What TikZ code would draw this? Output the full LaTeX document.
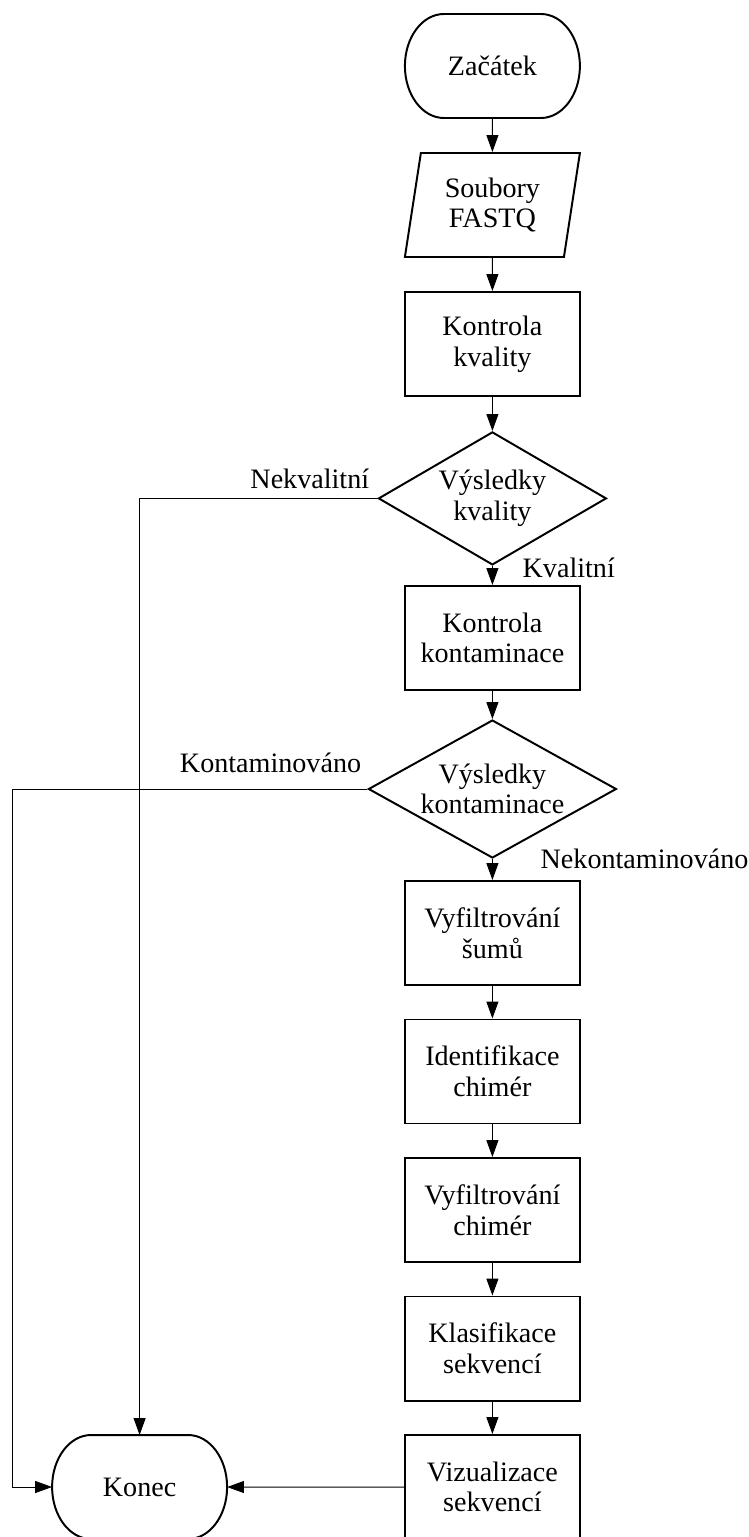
\documentclass[tikz,border=0pt]{standalone}
\usepackage{fontspec}
\setmainfont{Liberation Serif}
\usetikzlibrary{arrows.meta, positioning, shapes.geometric, calc}

\begin{document}
\begin{tikzpicture}[
    >={Triangle[length=12pt, width=8.5pt]},
    base/.style={draw=black, line width=1.4pt, align=center, font=\fontsize{20}{21.8}\selectfont},
    term/.style={base, draw=none, outer sep=0pt, rectangle, minimum width=4.375cm, minimum height=2.6cm},
    termline/.style={line width=1.4pt},
    io/.style={base, trapezium, trapezium left angle=76, trapezium right angle=104, trapezium stretches body, minimum width=4.375cm, minimum height=2.6cm, inner xsep=0pt},
    proc/.style={base, rectangle, minimum width=4.375cm, minimum height=2.6cm},
    dec/.style={base, diamond, inner sep=0pt},
    lbl/.style={font=\fontsize{20}{21.8}\selectfont, inner sep=0pt},
    arr/.style={->, line width=0.7pt}
  ]

  \useasboundingbox (0,0) rectangle (18.7,-38.425);

  % Main column
  \node[term] (start) at (12.31, -1.65) {Začátek};
  \node[io] (data) at (12.31, -5.125) {Soubory\\FASTQ};
  \node[proc] (k1) at (12.31, -8.6) {Kontrola\\kvality};
  \node[dec, aspect=1.71, minimum width=5.7cm, minimum height=3.325cm] (q1) at (12.31, -12.46) {Výsledky\\kvality};
  \node[proc] (k2) at (12.31, -15.95) {Kontrola\\kontaminace};
  \node[dec, aspect=1.8, minimum width=6.2cm, minimum height=3.45cm] (q2) at (12.31, -19.725) {Výsledky\\kontaminace};

  % Processing steps
  \foreach \i/\name in {%
    0/{Vyfiltrování\\šumů},
    1/{Identifikace\\chimér},
    2/{Vyfiltrování\\chimér},
    3/{Klasifikace\\sekvencí},
    4/{Vizualizace\\sekvencí}} {
    \node[proc] (p\i) at (12.31, -23.325-\i*3.4625) {\name};
  }

  \node[term] (end) at (3.49, -37.175) {Konec};

  % Terminal outlines (elliptic ends)
  \foreach \t in {start,end} {
    \draw[termline] ([xshift=0.975cm]\t.north west) -- ([xshift=-0.975cm]\t.north east)
      arc[start angle=90, end angle=-90, x radius=0.975cm, y radius=1.3cm]
      -- ([xshift=0.975cm]\t.south west)
      arc[start angle=270, end angle=90, x radius=0.975cm, y radius=1.3cm] -- cycle;
  }

  % Arrows
  \draw[arr] (start.south) -- (data.north);
  \draw[arr] (data.south) -- (k1.north);
  \draw[arr] (k1.south) -- (q1.north);
  \draw[arr] (q1.south) -- (k2.north);
  \draw[arr] (k2.south) -- (q2.north);
  \draw[arr] (q2.south) -- (p0.north);
  \foreach \i [count=\j] in {0,...,3} {
    \draw[arr] (p\i.south) -- (p\j.north);
  }
  \draw[arr] (q1.west) -| (end.north);
  \coordinate (left) at (0.3, -19.725);
  \draw[arr] (q2.west) -- (left) |- (end.west);
  \draw[arr] (p4.west) -- (end.east);

  % Labels
  \node[lbl, anchor=base east] (nq) at ($(q1.west)+(-0.2,0.25)$) {Nekvalitní};
  \node[lbl, anchor=base west] (yq) at ($(q1.south)+(0.75,-0.3)$) {Kvalitní};
  \node[lbl, anchor=base east] (nc) at ($(q2.west)+(-0.15,0.425)$) {Kontaminováno};
  \node[lbl, anchor=base west] (yc) at ($(q2.south)+(1.2,-0.25)$) {Nekontaminováno};

\end{tikzpicture}
\end{document}
